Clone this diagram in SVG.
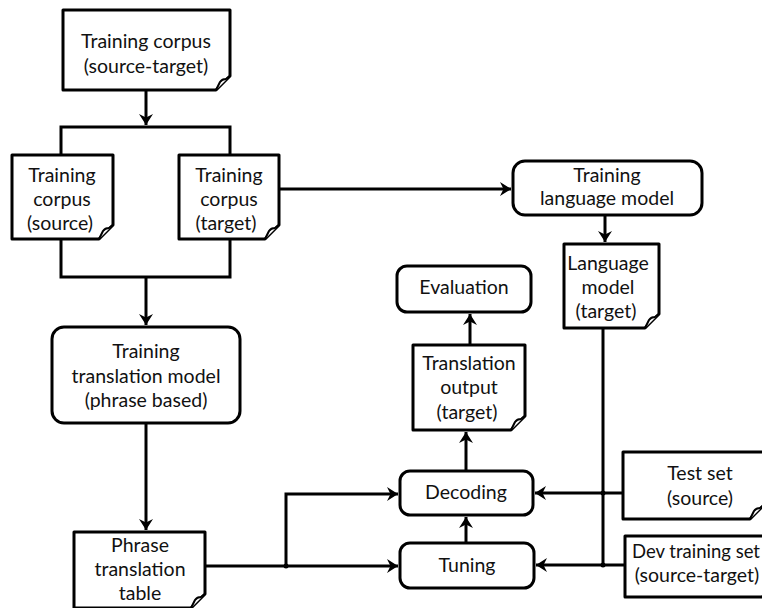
<svg xmlns="http://www.w3.org/2000/svg" width="762" height="608" viewBox="0 0 762 608">
<defs>
<style>
.box{fill:#fff;stroke:#000;stroke-width:3;stroke-linejoin:round}
.fold{fill:#fff;stroke:#000;stroke-width:2;stroke-linejoin:round}
.c{fill:none;stroke:#000;stroke-width:3}
.t{font-family:Lato,"Liberation Sans",sans-serif;font-size:19.5px;fill:#111;text-anchor:middle}
.dot{fill:#000}
</style>
<marker id="ah" markerUnits="userSpaceOnUse" markerWidth="16" markerHeight="16" refX="12" refY="8" orient="auto">
<path d="M1,1 L12,8 L1,15 L4.5,8 Z" fill="#000"/>
</marker>
</defs>
<rect width="762" height="608" fill="#fff"/>

<g id="connectors">
<path class="c" d="M146,90 V125" marker-end="url(#ah)"/>
<path class="c" d="M61,155 V127 H230 V155"/>
<path class="c" d="M61,239 V277 H230 V239"/>
<path class="c" d="M146,277 V325" marker-end="url(#ah)"/>
<path class="c" d="M146,423 V530" marker-end="url(#ah)"/>
<path class="c" d="M205,566 H398" marker-end="url(#ah)"/>
<path class="c" d="M286,566 V494 H398" marker-end="url(#ah)"/>
<path class="c" d="M279,189 H511" marker-end="url(#ah)"/>
<path class="c" d="M605,215 V242" marker-end="url(#ah)"/>
<path class="c" d="M603,328 V565"/>
<path class="c" d="M623,493 H535" marker-end="url(#ah)"/>
<path class="c" d="M625,565 H536" marker-end="url(#ah)"/>
<path class="c" d="M466,543 V517" marker-end="url(#ah)"/>
<path class="c" d="M466,471 V432" marker-end="url(#ah)"/>
<path class="c" d="M470,345 V314" marker-end="url(#ah)"/>
<circle class="dot" cx="286" cy="566" r="2.5"/>
<circle class="dot" cx="603" cy="493" r="2.5"/>
<circle class="dot" cx="603" cy="565" r="2.5"/>
</g>

<g id="corpus-source-target">
<path class="box" d="M63,10 H230 V76 L216,90 H63 Z"/>
<path class="fold" d="M216,90 L220,82 Q222,79 226,79 L230,76"/>
<text class="t" x="146" y="48">Training corpus</text>
<text class="t" x="146" y="73">(source-target)</text>
</g>

<g id="corpus-source">
<path class="box" d="M12,155 H113 V225 L99,239 H12 Z"/>
<path class="fold" d="M99,239 L103,231 Q105,228 109,228 L113,225"/>
<text class="t" x="62" y="182">Training</text>
<text class="t" x="62" y="206">corpus</text>
<text class="t" x="60" y="230">(source)</text>
</g>

<g id="corpus-target">
<path class="box" d="M179,155 H279 V225 L265,239 H179 Z"/>
<path class="fold" d="M265,239 L269,231 Q271,228 275,228 L279,225"/>
<text class="t" x="229" y="182">Training</text>
<text class="t" x="229" y="206">corpus</text>
<text class="t" x="226" y="230">(target)</text>
</g>

<g id="training-lm">
<rect class="box" x="513" y="161" width="189" height="54" rx="12"/>
<text class="t" x="607" y="182">Training</text>
<text class="t" x="607" y="205">language model</text>
</g>

<g id="language-model">
<path class="box" d="M564,244 H659 V314 L645,328 H564 Z"/>
<path class="fold" d="M645,328 L649,320 Q651,317 655,317 L659,314"/>
<text class="t" x="608" y="270">Language</text>
<text class="t" x="608" y="294">model</text>
<text class="t" x="606" y="318">(target)</text>
</g>

<g id="training-tm">
<rect class="box" x="52" y="327" width="188" height="96" rx="12"/>
<text class="t" x="146" y="358">Training</text>
<text class="t" x="146" y="383">translation model</text>
<text class="t" x="146" y="407">(phrase based)</text>
</g>

<g id="evaluation">
<rect class="box" x="397" y="266" width="134" height="46" rx="10"/>
<text class="t" x="464" y="294">Evaluation</text>
</g>

<g id="translation-output">
<path class="box" d="M413,345 H525 V416 L511,430 H413 Z"/>
<path class="fold" d="M511,430 L515,422 Q517,419 521,419 L525,416"/>
<text class="t" x="469" y="370">Translation</text>
<text class="t" x="469" y="394">output</text>
<text class="t" x="467" y="419">(target)</text>
</g>

<g id="decoding">
<rect class="box" x="400" y="471" width="133" height="44" rx="10"/>
<text class="t" x="466" y="499">Decoding</text>
</g>

<g id="tuning">
<rect class="box" x="400" y="543" width="134" height="45" rx="10"/>
<text class="t" x="467" y="572">Tuning</text>
</g>

<g id="phrase-table">
<path class="box" d="M74,532 H205 V594 L191,608 H74 Z"/>
<path class="fold" d="M191,608 L195,600 Q197,597 201,597 L205,594"/>
<text class="t" x="140" y="552">Phrase</text>
<text class="t" x="140" y="576">translation</text>
<text class="t" x="140" y="600">table</text>
</g>

<g id="test-set">
<path class="box" d="M623,452 H764 V505 L750,519 H623 Z"/>
<path class="fold" d="M750,519 L754,511 Q756,508 760,508 L764,505"/>
<text class="t" x="700" y="480">Test set</text>
<text class="t" x="700" y="505">(source)</text>
</g>

<g id="dev-set">
<path class="box" d="M625,536 H776 V583 L762,597 H625 Z"/>
<text class="t" x="696" y="558" style="font-size:18.5px">Dev training set</text>
<text class="t" x="697" y="582">(source-target)</text>
</g>
</svg>
